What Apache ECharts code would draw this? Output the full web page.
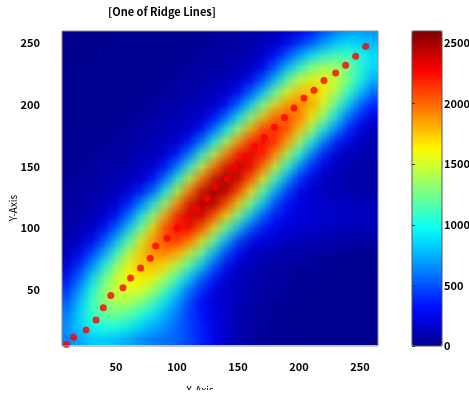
<!DOCTYPE html>
<html>
<head>
<meta charset="utf-8">
<script src="https://cdn.jsdelivr.net/npm/echarts@6/dist/echarts.min.js"></script>
<style>
  html, body { margin: 0; padding: 0; background: #fff; }
  #frame { position: relative; width: 469px; height: 390px; overflow: hidden; }
  #heatClip { position: absolute; overflow: hidden; }
  #heat { position: absolute; transform-origin: 0 0; }
  #chart { position: absolute; left: 0; top: 0; width: 469px; height: 390px; }
</style>
</head>
<body>
<div id="frame">
  <div id="heatClip"><div id="heat"></div></div>
  <div id="chart"></div>
</div>
<script>
// Grid node centres (cells are 10 units wide)
const xCenters = [10,20,30,40,50,60,70,80,90,100,110,120,130,140,150,160,170,180,190,200,210,220,230,240,250,260];
const yCenters = [10,20,30,40,50,60,70,80,90,100,110,120,130,140,150,160,170,180,190,200,210,220,230,240,250,260];

// Density per row, bottom row first (one value per x centre)
const densityRows = [
  [590,690,770,780,730,670,620,580,560,540,490,390,270,160,90,50,25,15,10,8,6,5,4,3,3,2],                 // y = 10
  [630,810,920,985,970,895,790,700,640,560,480,390,270,170,100,55,30,20,14,11,8,6,5,4,3,3],               // y = 20
  [600,830,1040,1150,1195,1125,995,870,735,600,460,360,250,165,100,65,40,25,15,11,9,7,6,5,4,3],           // y = 30
  [510,790,1080,1280,1340,1350,1240,1070,880,680,490,320,230,160,105,70,45,30,20,10,8,6,5,4,4,3],         // y = 40
  [410,690,1010,1300,1470,1490,1475,1310,1090,830,570,370,220,160,120,80,55,37,25,15,10,7,6,5,4,4],       // y = 50
  [300,540,860,1210,1480,1620,1620,1580,1360,1060,780,520,315,175,125,95,67,48,33,26,15,10,8,6,5,4],      // y = 60
  [190,390,670,1000,1330,1610,1760,1755,1600,1400,1090,780,510,265,145,110,80,63,49,33,26,15,11,8,6,5],   // y = 70
  [120,250,460,740,1090,1450,1740,1900,1900,1740,1470,1130,740,430,225,130,107,82,64,48,33,25,15,11,8,6], // y = 80
  [80,140,280,500,810,1180,1560,1890,2070,2080,1900,1550,1130,730,400,220,165,140,115,95,80,65,55,47,43,40],        // y = 90
  [70,90,155,300,540,870,1270,1700,2070,2260,2240,2000,1590,1090,730,445,275,210,180,155,135,120,105,100,90,85],    // y = 100
  [57,76,97,167,327,586,950,1395,1860,2210,2410,2350,2040,1590,1170,780,500,305,240,210,185,170,155,140,130,125],   // y = 110
  [46,62,82,105,180,356,642,1035,1420,1930,2340,2510,2410,2080,1650,1180,780,470,285,220,190,165,150,135,120,115],  // y = 120
  [37,49,66,89,114,197,389,583,991,1500,2010,2400,2560,2430,2095,1610,1130,715,415,230,170,145,120,105,90,75],      // y = 130
  [27,40,53,72,98,124,154,325,615,1030,1540,2050,2420,2550,2390,2025,1540,1060,660,370,195,130,107,83,67,53],       // y = 140
  [21,30,43,59,79,91,118,163,339,632,1050,1550,2040,2380,2480,2320,1950,1475,1010,620,340,170,110,87,64,58],        // y = 150
  [16,23,33,47,54,72,96,123,168,346,640,1050,1530,1980,2310,2400,2240,1880,1425,975,600,325,162,105,91,71],         // y = 160
  [10,17,25,28,39,57,75,99,125,169,344,627,1020,1480,1920,2230,2320,2170,1820,1370,930,570,306,204,108,83],         // y = 170
  [9,11,12,19,30,40,58,77,100,125,166,335,608,986,1430,1860,2160,2240,2080,1740,1300,875,613,355,186,97],           // y = 180
  [5,5,10,12,20,30,41,59,77,98,122,161,324,588,954,1384,1792,2070,2140,1976,1632,1282,895,559,321,179],             // y = 190
  [4,4,4,10,13,20,31,41,58,74,95,118,156,313,568,921,1330,1710,1970,2010,1855,1545,1170,808,528,329],               // y = 200
  [3,4,5,8,10,13,20,30,40,56,72,92,114,150,302,545,880,1263,1608,1847,1860,1690,1394,1073,785,513],                 // y = 210
  [2,3,4,5,7,10,13,20,29,38,54,70,89,110,145,289,518,826,1215,1530,1685,1680,1520,1285,990,700],                    // y = 220
  [2,2,3,4,5,7,9,12,19,28,37,52,67,85,105,137,271,530,852,1140,1383,1490,1464,1327,1111,843],                       // y = 230
  [1,2,2,3,4,5,7,9,12,19,27,36,50,64,81,98,151,320,524,769,988,1135,1226,1215,1092,889],                            // y = 240
  [1,1,2,2,3,4,5,7,9,11,18,26,34,48,60,81,102,161,289,446,598,770,907,970,938,817],                                 // y = 250
  [1,1,1,2,2,3,4,5,7,9,11,17,25,32,49,65,80,92,134,210,324,455,583,672,712,664]                                     // y = 260
];

// Ridge line points
const ridgeX = [9.3,15.2,25.4,33.6,39.6,45.7,55.7,61.9,70.1,78.0,82.5,92.0,100.2,108.2,116.6,124.6,131.1,141.0,147.3,155.5,163.7,171.6,179.8,188.0,195.9,204.1,212.3,220.5,230.1,238.3,246.5,254.7];
const ridgeY = [5.9,11.7,17.6,25.7,35.7,45.6,51.8,59.7,67.9,75.7,85.6,91.9,100.0,107.8,115.9,124.0,133.7,140.0,149.9,157.7,166.1,173.7,181.8,189.6,197.4,205.5,211.7,219.7,225.6,231.9,239.2,247.2];

// Tick labels
const xTickValues = [50,100,150,200,250];
const yTickValues = [50,100,150,200,250];
const colorTickValues = [0,500,1000,1500,2000,2500];

// Jet colour map, 17 evenly spaced stops
const jet = ['#00008F','#0000CE','#000EFF','#004DFF','#008CFF','#00CAFF','#0AFFF5','#49FFB6','#87FF78',
             '#C6FF39','#FFF900','#FFBA00','#FF7B00','#FF3D00','#FE0000','#BE0000','#800000'];

// Axis ranges and plot rectangle
const xMin = 5.7, xMax = 264.8, yMin = 4.7, yMax = 259.7;
const plot = { left: 62, top: 31, width: 316, height: 315 };
const colorMax = 2600;
const cellSize = 10;

// ---- Density layer: one pixel per cell, enlarged with smooth resampling ----
const nx = xCenters.length, ny = yCenters.length;
const pxPerX = plot.width / (xMax - xMin);
const pxPerY = plot.height / (yMax - yMin);
const clip = document.getElementById('heatClip');
Object.assign(clip.style, { left: plot.left + 'px', top: plot.top + 'px',
  width: plot.width + 'px', height: plot.height + 'px' });
const heatEl = document.getElementById('heat');
const xEdge = xCenters[0] - cellSize / 2;
const yEdge = yCenters[ny - 1] + cellSize / 2;
Object.assign(heatEl.style, {
  width: nx + 'px', height: ny + 'px',
  left: ((xEdge - xMin) * pxPerX) + 'px',
  top: ((yMax - yEdge) * pxPerY) + 'px',
  transform: 'scale(' + (cellSize * pxPerX) + ',' + (cellSize * pxPerY) + ')'
});

const heatData = [];
yCenters.forEach((y, j) => {
  xCenters.forEach((x, i) => heatData.push([i, j, densityRows[j][i]]));
});

const heat = echarts.init(heatEl, null, { renderer: 'canvas', devicePixelRatio: 1, width: nx, height: ny });
heat.setOption({
  animation: false,
  grid: { left: 0, top: 0, right: 0, bottom: 0, outerBoundsMode: 'none', containLabel: false },
  xAxis: { type: 'category', data: xCenters.map(String), show: false },
  yAxis: { type: 'category', data: yCenters.map(String), show: false },
  visualMap: { type: 'continuous', show: false, min: 0, max: colorMax, seriesIndex: 0, inRange: { color: jet } },
  series: [{ type: 'heatmap', data: heatData, silent: true, itemStyle: { borderWidth: 0 } }]
});

// ---- Axes, ridge points and colour bar ----
const ridgeData = ridgeX.map((x, i) => [x, ridgeY[i]]);
const font = '"Noto Sans CJK JP", "Noto Sans", sans-serif';
const tickLabel = { fontSize: 11, fontWeight: 'bold', color: '#000', fontFamily: font,
                    formatter: v => String(v) };
const nameStyle = { fontSize: 10, fontFamily: font, fill: '#000', align: 'center', verticalAlign: 'middle' };

const chart = echarts.init(document.getElementById('chart'), null, { renderer: 'canvas' });
chart.setOption({
  animation: false,
  backgroundColor: 'transparent',
  title: {
    text: '[One of Ridge Lines]',
    left: 108, top: 6, padding: 0,
    textStyle: { fontSize: 11, fontWeight: 'bold', color: '#000', fontFamily: font }
  },
  graphic: [
    { type: 'text', x: 200, y: 390, silent: true, style: Object.assign({ text: 'X-Axis' }, nameStyle) },
    { type: 'text', x: 13.5, y: 208, rotation: Math.PI / 2, silent: true,
      style: Object.assign({ text: 'Y-Axis' }, nameStyle) }
  ],
  grid: [
    { left: plot.left, top: plot.top, width: plot.width, height: plot.height,
      outerBoundsMode: 'none', containLabel: false, show: true, z: 10,
      backgroundColor: 'transparent', borderColor: '#8c8c8c', borderWidth: 1 },
    { left: 412, top: plot.top, width: 30, height: plot.height,
      outerBoundsMode: 'none', containLabel: false, show: true, z: 10,
      backgroundColor: 'transparent', borderColor: '#555', borderWidth: 1 }
  ],
  xAxis: [
    { gridIndex: 0, type: 'value', min: xMin, max: xMax,
      axisLine: { show: false }, axisTick: { show: false }, splitLine: { show: false },
      axisLabel: Object.assign({ customValues: xTickValues, margin: 15 }, tickLabel) },
    { gridIndex: 1, type: 'value', min: 0, max: 1, show: false }
  ],
  yAxis: [
    { gridIndex: 0, type: 'value', min: yMin, max: yMax,
      axisLine: { show: false }, axisTick: { show: false }, splitLine: { show: false },
      axisLabel: Object.assign({ customValues: yTickValues, margin: 22 }, tickLabel) },
    { gridIndex: 1, type: 'value', min: 0, max: colorMax, position: 'right', z: 10,
      axisLine: { show: false }, axisTick: { show: false }, splitLine: { show: false },
      axisLabel: Object.assign({ customValues: colorTickValues, margin: 2 }, tickLabel) },
    { gridIndex: 1, type: 'value', min: 0, max: colorMax, position: 'left', z: 10,
      axisLine: { show: false }, splitLine: { show: false }, axisLabel: { show: false },
      axisTick: { show: true, inside: true, length: 3, customValues: colorTickValues,
                  lineStyle: { color: '#333', width: 1 } } }
  ],
  visualMap: {
    type: 'continuous', min: 0, max: colorMax, seriesIndex: [],
    inRange: { color: jet },
    orient: 'vertical', left: 412, top: plot.top, itemWidth: 30, itemHeight: plot.height,
    padding: 0, calculable: false, hoverLink: false, z: 5
  },
  series: [
    {
      type: 'scatter', xAxisIndex: 0, yAxisIndex: 0, z: 3, silent: true,
      symbol: 'circle', symbolSize: 7,
      itemStyle: { color: '#ff0000' },
      data: ridgeData
    }
  ]
});
</script>
</body>
</html>
